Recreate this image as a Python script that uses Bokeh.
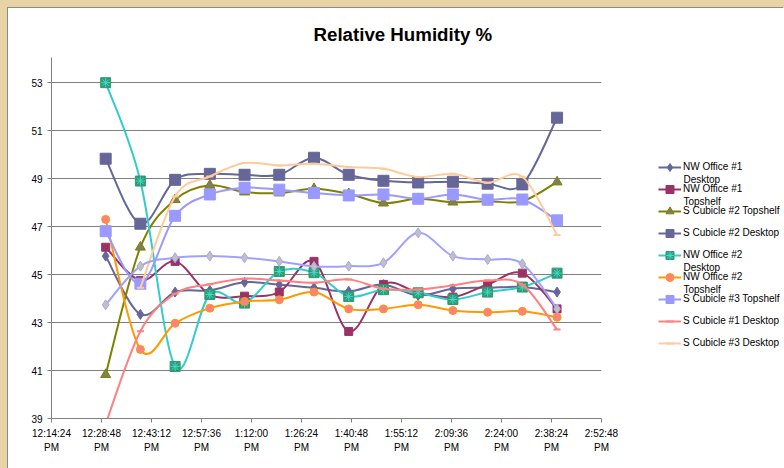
import numpy as np
from bokeh.plotting import figure
from bokeh.layouts import row
from bokeh.models import Range1d, FixedTicker, Legend, LegendItem, Label, ColumnDataSource
from bokeh.embed import file_html
from bokeh.resources import INLINE

# ---------------- data ----------------
times = ["12:30", "12:40", "12:50", "13:00", "13:10", "13:20", "13:30",
         "13:40", "13:50", "14:00", "14:10", "14:20", "14:30", "14:40"]

nw1_desktop = [45.77, 43.34, 44.27, 44.34, 44.68, 44.58, 44.45, 44.30, 44.58, 44.13, 44.41, 44.45, 44.48, 44.27]
nw1_topshelf = [46.14, 44.75, 45.55, 44.16, 44.10, 44.27, 45.55, 42.63, 44.59, 44.25, 44.06, 44.59, 45.06, 43.57]
s2_topshelf = [40.83, 46.14, 48.12, 48.72, 48.44, 48.40, 48.58, 48.37, 47.98, 48.16, 48.02, 48.06, 48.06, 48.86]
s2_desktop = [49.83, 47.12, 48.95, 49.20, 49.16, 49.16, 49.87, 49.16, 48.91, 48.84, 48.87, 48.79, 48.76, 51.54]
nw2_desktop = [53.00, 48.90, 41.17, 44.17, 43.81, 45.13, 45.08, 44.09, 44.37, 44.24, 43.96, 44.27, 44.48, 45.06]
nw2_topshelf = [47.30, 41.88, 42.97, 43.60, 43.88, 43.95, 44.27, 43.57, 43.57, 43.74, 43.50, 43.43, 43.47, 43.22]
s3_topshelf = [46.81, 44.62, 47.45, 48.34, 48.62, 48.54, 48.40, 48.30, 48.34, 48.16, 48.34, 48.12, 48.13, 47.26]
s1_desktop = [38.78, 42.64, 44.20, 44.60, 44.83, 44.75, 44.66, 44.80, 44.41, 44.38, 44.55, 44.75, 44.58, 42.71]
s3_desktop = [None, 44.45, 48.26, 49.09, 49.65, 49.55, 49.62, 49.48, 49.41, 49.07, 49.20, 48.83, 49.08, 46.65]
extra_series = [43.74, 45.35, 45.70, 45.77, 45.70, 45.55, 45.34, 45.35, 45.49, 46.74, 45.77, 45.63, 45.45, 43.57]

tick_times = ["12:14:24", "12:28:48", "12:43:12", "12:57:36", "13:12:00", "13:26:24",
              "13:40:48", "13:55:12", "14:09:36", "14:24:00", "14:38:24", "14:52:48"]
tick_labels = ["12:14:24\nPM", "12:28:48\nPM", "12:43:12\nPM", "12:57:36\nPM", "1:12:00\nPM",
               "1:26:24\nPM", "1:40:48\nPM", "1:55:12\nPM", "2:09:36\nPM", "2:24:00\nPM",
               "2:38:24\nPM", "2:52:48\nPM"]
y_ticks = [39, 41, 43, 45, 47, 49, 51, 53]

series = [
    ("NW Office #1", "Desktop", nw1_desktop),
    ("NW Office #1", "Topshelf", nw1_topshelf),
    ("S Cubicle #2 Topshelf", None, s2_topshelf),
    ("S Cubicle #2 Desktop", None, s2_desktop),
    ("NW Office #2", "Desktop", nw2_desktop),
    ("NW Office #2", "Topshelf", nw2_topshelf),
    ("S Cubicle #3 Topshelf", None, s3_topshelf),
    ("S Cubicle #1 Desktop", None, s1_desktop),
    ("S Cubicle #3 Desktop", None, s3_desktop),
    (None, None, extra_series),
]

# ---------------- styles ----------------
styles = [
    dict(line="#666699", markers=[dict(marker="diamond", size=10, fill_color="#666699", line_color="#666699")]),
    dict(line="#993366", markers=[dict(marker="square", size=8, fill_color="#993366", line_color="#993366")]),
    dict(line="#808000", markers=[dict(marker="triangle", size=10, fill_color="#7f7f5c", line_color="#808000")]),
    dict(line="#666699", markers=[dict(marker="square", size=11, fill_color="#666699", line_color="#666699")]),
    dict(line="#33CCCC", markers=[dict(marker="square", size=10, fill_color="#2f9a6e", line_color="#2f9a6e"),
                                  dict(marker="asterisk", size=9, fill_color=None, line_color="#40D8D8")]),
    dict(line="#FF9900", markers=[dict(marker="circle", size=8, fill_color="#FF8080", line_color="#FF9900")]),
    dict(line="#9999FF", markers=[dict(marker="square", size=11, fill_color="#9999FF", line_color="#9999FF")]),
    dict(line="#FF8080", markers=[dict(marker="dash", size=7, fill_color=None, line_color="#FF8080", line_width=2)]),
    dict(line="#FFCC99", markers=[dict(marker="dash", size=7, fill_color=None, line_color="#FFCC99", line_width=2)]),
    dict(line="#A0A0FF", markers=[dict(marker="diamond", size=10, fill_color="#C0C0C0", line_color="#A8A8E8")]),
]

FONT = "Liberation Sans"


def to_sec(t):
    parts = [int(v) for v in t.split(":")]
    while len(parts) < 3:
        parts.append(0)
    return parts[0] * 3600 + parts[1] * 60 + parts[2]


xs = [to_sec(t) for t in times]
tick_x = [to_sec(t) for t in tick_times]


def bezier_segments(xv, yv):
    pts = [(x, y) for x, y in zip(xv, yv) if y is not None]
    n = len(pts)
    d = dict(x0=[], y0=[], x1=[], y1=[], cx0=[], cy0=[], cx1=[], cy1=[])
    for i in range(n - 1):
        p0 = pts[i - 1] if i > 0 else pts[i]
        p1 = pts[i]
        p2 = pts[i + 1]
        p3 = pts[i + 2] if i + 2 < n else pts[i + 1]
        d["x0"].append(p1[0]); d["y0"].append(p1[1])
        d["x1"].append(p2[0]); d["y1"].append(p2[1])
        d["cx0"].append(p1[0] + (p2[0] - p0[0]) / 6.0)
        d["cy0"].append(p1[1] + (p2[1] - p0[1]) / 6.0)
        d["cx1"].append(p2[0] - (p3[0] - p1[0]) / 6.0)
        d["cy1"].append(p2[1] - (p3[1] - p1[1]) / 6.0)
    return d


# ---------------- main chart ----------------
p = figure(width=640, height=460, output_backend="svg", toolbar_location=None,
           x_range=Range1d(tick_x[0], tick_x[-1]), y_range=Range1d(39, 54.05),
           min_border_left=43, min_border_right=47, min_border_top=49, min_border_bottom=50,
           background_fill_color="white", border_fill_color="white", outline_line_color=None)

p.title.text = "Relative Humidity  %"
p.title.text_font = FONT
p.title.text_font_size = "18.7px"
p.title.text_font_style = "bold"
p.title.text_color = "black"
p.title.align = "left"
p.title.offset = 262
p.title.standoff = 25

p.xgrid.grid_line_color = None
p.ygrid.grid_line_color = "#808080"
p.ygrid.grid_line_width = 1
p.ygrid.ticker = FixedTicker(ticks=y_ticks)

p.yaxis.ticker = FixedTicker(ticks=y_ticks)
p.xaxis.ticker = FixedTicker(ticks=tick_x)
p.xaxis.major_label_overrides = {tx: lab for tx, lab in zip(tick_x, tick_labels)}
for ax in (p.xaxis, p.yaxis):
    ax.axis_line_color = "#808080"
    ax.major_tick_line_color = "#808080"
    ax.major_tick_in = 0
    ax.major_tick_out = 4
    ax.minor_tick_line_color = None
    ax.major_label_text_font = FONT
    ax.major_label_text_font_size = "10px"
    ax.major_label_text_color = "black"
    ax.major_label_standoff = 5
p.xaxis.major_label_text_line_height = 1.3

# ---------------- legend panel (separate figure so nothing is clipped) ----------------
side = figure(width=136, height=460, output_backend="svg", toolbar_location=None,
              x_range=Range1d(0, 1), y_range=Range1d(0, 1),
              x_axis_location=None, y_axis_location=None,
              min_border_left=0, min_border_right=0, min_border_top=0, min_border_bottom=0,
              background_fill_color="white", border_fill_color="white", outline_line_color=None)
side.xgrid.grid_line_color = None
side.ygrid.grid_line_color = None

legend_items = []
for (name, second, vals), st in zip(series, styles):
    seg = ColumnDataSource(bezier_segments(xs, vals))
    p.bezier(x0="x0", y0="y0", x1="x1", y1="y1", cx0="cx0", cy0="cy0", cx1="cx1", cy1="cy1",
             source=seg, line_color=st["line"], line_width=2)
    pts_x = [x for x, v in zip(xs, vals) if v is not None]
    pts_y = [v for v in vals if v is not None]
    src = ColumnDataSource(dict(x=pts_x, y=pts_y))
    for m in st["markers"]:
        p.scatter(x="x", y="y", source=src, marker=m["marker"], size=m["size"],
                  fill_color=m["fill_color"], line_color=m["line_color"],
                  line_width=m.get("line_width", 1))
    if name is not None:
        # legend swatches: renderers with a single empty (NaN) row, never visible in the plot
        empty = ColumnDataSource(dict(x=np.array([np.nan]), y=np.array([np.nan])))
        rends = [side.line(x="x", y="y", source=empty, line_color=st["line"], line_width=2)]
        for m in st["markers"]:
            rends.append(side.scatter(x="x", y="y", source=empty, marker=m["marker"], size=m["size"],
                                      fill_color=m["fill_color"], line_color=m["line_color"],
                                      line_width=m.get("line_width", 1)))
        legend_items.append(LegendItem(label=name, renderers=rends))

legend = Legend(items=legend_items, location=(10, 65.3), orientation="vertical",
                glyph_width=23, glyph_height=20, label_height=20, spacing=2,
                padding=0, margin=0, label_standoff=2,
                border_line_color=None, background_fill_alpha=0,
                label_text_font=FONT, label_text_font_size="10px", label_text_color="black")
side.add_layout(legend)

# wrapped second lines of the long legend labels
for idx, (name, second, vals) in enumerate(series):
    if second is not None:
        side.add_layout(Label(x=35, y=238.7 - 22 * idx, x_units="screen", y_units="screen",
                              text=second, text_font=FONT, text_font_size="10px",
                              text_baseline="middle", text_align="left", text_color="black"))

layout = row(p, side, spacing=0)

html = file_html(layout, INLINE)
css = ("<style>html{background:#e8d3a4 !important;overflow:hidden !important;}"
       "body{margin:8px 0 0 8px !important;padding:0 !important;width:776px !important;"
       "background:#ffffff !important;box-shadow:-1px -1px 0 0 #8a8a8a;}</style>")
html = html.replace("</head>", css + "</head>", 1)
open("out.html", "w").write(html)
